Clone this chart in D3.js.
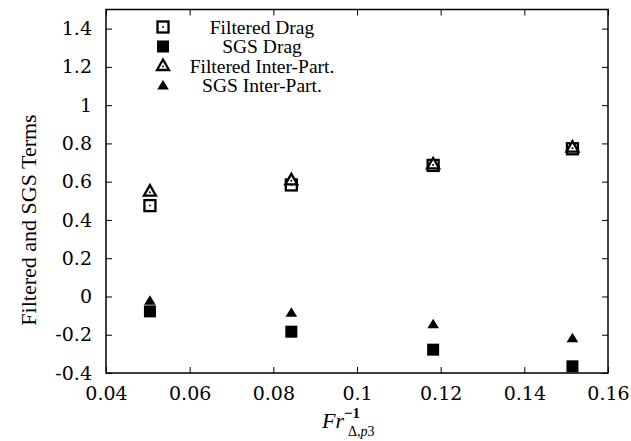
<!DOCTYPE html>
<html>
<head>
<meta charset="utf-8">
<script src="https://cdn.jsdelivr.net/npm/d3@7"></script>
<style>
  body { margin: 0; background: #fff; }
  svg { display: block; }
  .tick text { font-family: "DejaVu Serif", serif; font-size: 19px; fill: #000; }
</style>
</head>
<body>
<div id="chart"></div>
<script>
"use strict";

// values
var frInv = [0.0505, 0.0843, 0.1182, 0.1515];
var filteredDrag = [0.475, 0.583, 0.685, 0.772];
var sgsDrag = [-0.078, -0.184, -0.278, -0.365];
var filteredInter = [0.548, 0.607, 0.690, 0.778];
var sgsInter = [-0.022, -0.085, -0.145, -0.218];

var xTicks = [0.04, 0.06, 0.08, 0.1, 0.12, 0.14, 0.16];
var yTicks = [-0.4, -0.2, 0, 0.2, 0.4, 0.6, 0.8, 1, 1.2, 1.4];

var seriesNames = ["Filtered Drag", "SGS Drag", "Filtered Inter-Part.", "SGS Inter-Part."];
var seriesValues = [filteredDrag, sgsDrag, filteredInter, sgsInter];
var seriesShapes = ["openSquare", "square", "openTriangle", "triangle"];

var W = 631, H = 441;
var margin = { top: 9.5, right: 23, bottom: 68, left: 106 };
var width = W - margin.left - margin.right,
    height = H - margin.top - margin.bottom;

var svg = d3.select("#chart").append("svg")
  .attr("width", W).attr("height", H);

var g = svg.append("g")
  .attr("transform", "translate(" + margin.left + "," + margin.top + ")");

var x = d3.scaleLinear().domain([0.04, 0.16]).range([0, width]);
var y = d3.scaleLinear().domain([-0.4, 1.5]).range([height, 0]);

// plain hyphen for negatives, like the gnuplot labels
var fmt = function (d) { return String(+d.toFixed(2)); };

// axes: ticks point inwards, mirrored on top and right
g.append("g").attr("transform", "translate(0," + height + ")")
  .call(d3.axisBottom(x).tickValues(xTicks).tickSize(-6).tickPadding(14).tickFormat(fmt));
g.append("g")
  .call(d3.axisTop(x).tickValues(xTicks).tickSize(-6).tickFormat(""));
g.append("g")
  .call(d3.axisLeft(y).tickValues(yTicks).tickSize(-6).tickPadding(14).tickFormat(fmt));
g.append("g").attr("transform", "translate(" + width + ",0)")
  .call(d3.axisRight(y).tickValues(yTicks).tickSize(-6).tickFormat(""));

g.selectAll(".domain").remove();
g.selectAll(".tick line").attr("stroke", "#000").attr("stroke-width", 1);

g.append("rect")
  .attr("width", width).attr("height", height)
  .attr("fill", "none").attr("stroke", "#000").attr("stroke-width", 1.5);

// point symbols
function drawMarker(sel, shape) {
  if (shape === "openSquare") {
    sel.append("rect").attr("x", -5.5).attr("y", -5.5).attr("width", 11).attr("height", 11)
      .attr("fill", "#fff").attr("stroke", "#000").attr("stroke-width", 2.3);
    sel.append("circle").attr("r", 1).attr("fill", "#000");
  } else if (shape === "square") {
    sel.append("rect").attr("x", -6).attr("y", -6).attr("width", 12).attr("height", 12)
      .attr("fill", "#000");
  } else if (shape === "openTriangle") {
    sel.append("path").attr("d", "M0,-6.5L6,4L-6,4Z")
      .attr("fill", "#fff").attr("stroke", "#000").attr("stroke-width", 2.3)
      .attr("stroke-linejoin", "miter");
    sel.append("circle").attr("cy", 0.5).attr("r", 1).attr("fill", "#000");
  } else {
    sel.append("path").attr("d", "M0,-5.5L5.8,4L-5.8,4Z").attr("fill", "#000");
  }
}

seriesValues.forEach(function (vals, i) {
  g.selectAll(".pt" + i)
    .data(vals)
    .enter().append("g")
    .attr("class", "pt" + i)
    .attr("transform", function (d, j) { return "translate(" + x(frInv[j]) + "," + y(d) + ")"; })
    .each(function () { drawMarker(d3.select(this), seriesShapes[i]); });
});

// legend
var legend = svg.append("g").attr("transform", "translate(163,27)");
seriesNames.forEach(function (name, i) {
  var row = legend.append("g").attr("transform", "translate(0," + (i * 19.5) + ")");
  drawMarker(row.append("g"), seriesShapes[i]);
  row.append("text")
    .attr("x", 99).attr("y", 6.5)
    .attr("text-anchor", "middle")
    .attr("font-family", "Liberation Serif, serif")
    .attr("font-size", 19.5)
    .text(name);
});

// axis titles
svg.append("text")
  .attr("transform", "translate(36,220) rotate(-90)")
  .attr("text-anchor", "middle")
  .attr("font-family", "Liberation Serif, serif")
  .attr("font-size", 22)
  .text("Filtered and SGS Terms");

var xl = svg.append("text")
  .attr("x", 322).attr("y", 428)
  .attr("font-family", "Liberation Serif, serif")
  .attr("font-size", 22);
xl.append("tspan").attr("font-style", "italic").text("Fr");
xl.append("tspan").attr("font-size", 15).attr("font-weight", "bold").attr("dy", -10).text("\u22121");
xl.append("tspan").attr("font-size", 14).attr("x", 348).attr("dy", 18)
  .text("\u0394,");
xl.append("tspan").attr("font-size", 14).attr("font-style", "italic").text("p");
xl.append("tspan").attr("font-size", 14).text("3");
</script>
</body>
</html>
